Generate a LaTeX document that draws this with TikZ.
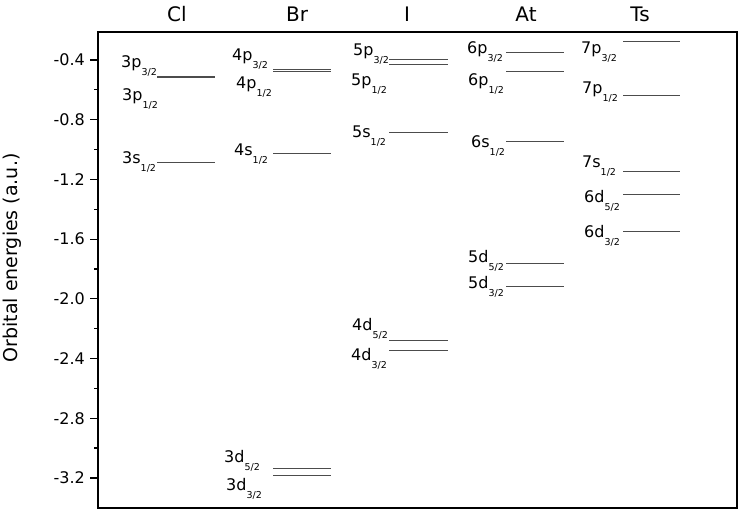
\documentclass[tikz,border=0pt]{standalone}
\usepackage{fontspec}
\setmainfont{DejaVu Sans}
\newcommand\orbsub[1]{\raisebox{-8.5pt}{\fontsize{9.5}{10}\selectfont #1}}
\tikzset{
  lvl/.style={draw=black!70, line width=1pt},
  lbl/.style={anchor=base west, inner sep=0pt, font=\fontsize{16}{18}\selectfont},
  ttl/.style={anchor=center, inner sep=0pt, font=\fontsize{20}{22}\selectfont},
  tck/.style={anchor=east, inner sep=0pt, font=\fontsize{16}{18}\selectfont},
  frame/.style={draw=black, line width=1.6pt},
  tickline/.style={draw=black, line width=1.2pt}
}
\begin{document}
\begin{tikzpicture}[x=1pt,y=-1pt]
\useasboundingbox (0,0) rectangle (742,512);
% frame
\draw[frame] (98,32) rectangle (737,508);
% ticks
\foreach \v/\t in {0/-0.4,1/-0.8,2/-1.2,3/-1.6,4/-2.0,5/-2.4,6/-2.8,7/-3.2}{
  \pgfmathsetmacro\yy{60+\v*59.7}
  \draw[tickline] (90,\yy) -- (98,\yy);
  \node[tck] (tick\v) at (85,\yy) {\t};
}
\foreach \v in {0,...,6}{
  \pgfmathsetmacro\yy{60+29.85+\v*59.7}
  \draw[tickline] (94,\yy) -- (98,\yy);
}
% axis label
\node[rotate=90, inner sep=0pt, font=\fontsize{19}{21}\selectfont] (ylab) at (12,258) {Orbital energies (a.u.)};
% titles
\node[ttl] (tCl) at (177,14) {Cl};
\node[ttl] (tBr) at (297,14) {Br};
\node[ttl] (tI) at (407,14) {I};
\node[ttl] (tAt) at (526,14) {At};
\node[ttl] (tTs) at (640,14) {Ts};
% Cl
\draw[lvl] (157,76.5) -- (215,76.5);
\draw[lvl] (157,77.2) -- (215,77.2);
\draw[lvl] (157,162) -- (215,162);
\node[lbl] (cl1) at (121,67) {3p\orbsub{3/2}};
\node[lbl] (cl2) at (122,100) {3p\orbsub{1/2}};
\node[lbl] (cl3) at (122,163) {3s\orbsub{1/2}};
% Br
\draw[lvl] (273,69) -- (331,69);
\draw[lvl] (273,71) -- (331,71);
\draw[lvl] (273,153) -- (331,153);
\draw[lvl] (273,468) -- (331,468);
\draw[lvl] (273,475) -- (331,475);
\node[lbl] (br1) at (232,60) {4p\orbsub{3/2}};
\node[lbl] (br2) at (236,88) {4p\orbsub{1/2}};
\node[lbl] (br3) at (234,155) {4s\orbsub{1/2}};
\node[lbl] (br4) at (224,462) {3d\orbsub{5/2}};
\node[lbl] (br5) at (226,490) {3d\orbsub{3/2}};
% I
\draw[lvl] (389,59) -- (448,59);
\draw[lvl] (389,64) -- (448,64);
\draw[lvl] (389,132) -- (448,132);
\draw[lvl] (389,340) -- (448,340);
\draw[lvl] (389,350) -- (448,350);
\node[lbl] (i1) at (353,55) {5p\orbsub{3/2}};
\node[lbl] (i2) at (351,85) {5p\orbsub{1/2}};
\node[lbl] (i3) at (352,137) {5s\orbsub{1/2}};
\node[lbl] (i4) at (352,330) {4d\orbsub{5/2}};
\node[lbl] (i5) at (351,360) {4d\orbsub{3/2}};
% At
\draw[lvl] (506,52) -- (564,52);
\draw[lvl] (506,71) -- (564,71);
\draw[lvl] (506,141) -- (564,141);
\draw[lvl] (506,263) -- (564,263);
\draw[lvl] (506,286) -- (564,286);
\node[lbl] (at1) at (467,53) {6p\orbsub{3/2}};
\node[lbl] (at2) at (468,85) {6p\orbsub{1/2}};
\node[lbl] (at3) at (471,147) {6s\orbsub{1/2}};
\node[lbl] (at4) at (468,262) {5d\orbsub{5/2}};
\node[lbl] (at5) at (468,288) {5d\orbsub{3/2}};
% Ts
\draw[lvl] (623,41) -- (680,41);
\draw[lvl] (623,95) -- (680,95);
\draw[lvl] (623,171) -- (680,171);
\draw[lvl] (623,194) -- (680,194);
\draw[lvl] (623,231) -- (680,231);
\node[lbl] (ts1) at (581,53) {7p\orbsub{3/2}};
\node[lbl] (ts2) at (582,93) {7p\orbsub{1/2}};
\node[lbl] (ts3) at (582,167) {7s\orbsub{1/2}};
\node[lbl] (ts4) at (584,202) {6d\orbsub{5/2}};
\node[lbl] (ts5) at (584,237) {6d\orbsub{3/2}};
\end{tikzpicture}
\end{document}
